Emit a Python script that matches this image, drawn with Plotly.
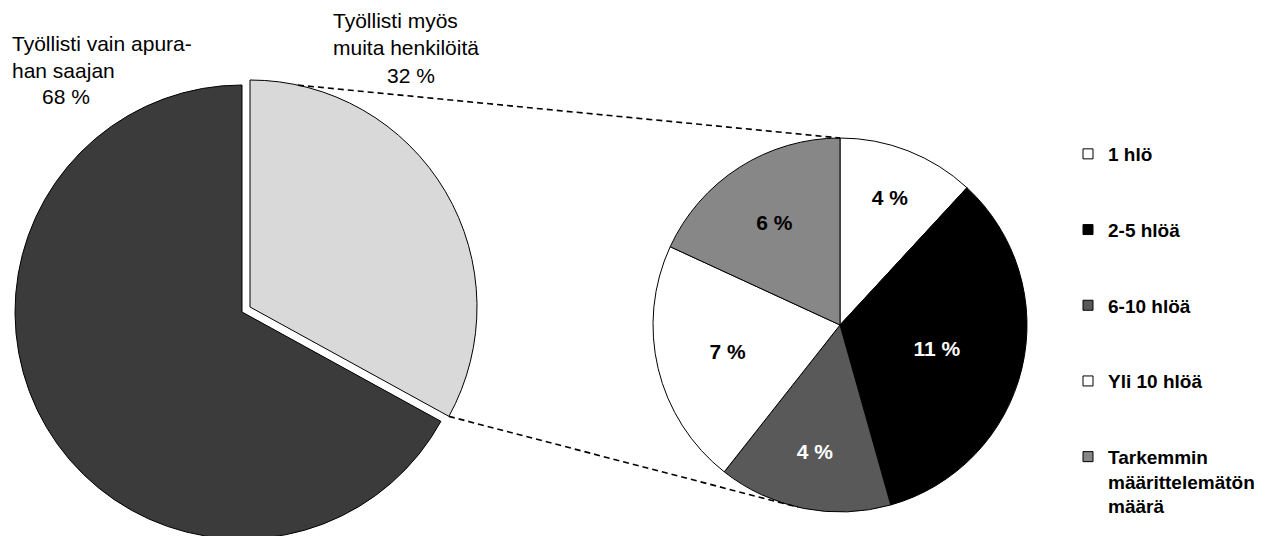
import math
import plotly.graph_objects as go

W, H = 1280, 536
OFF = 8   # page offset of the figure (default body margin)

# ---------------- data ----------------
big_labels = ["Työllisti myös muita henkilöitä", "Työllisti vain apurahan saajan"]
big_values = [33, 67]
big_text = ["32 %", "68 %"]
big_colors = ["#d9d9d9", "#3b3b3b"]

small_labels = ["1 hlö", "2-5 hlöä", "6-10 hlöä", "Yli 10 hlöä", "Tarkemmin<br>määrittelemätön<br>määrä"]
small_values = [3.8, 10.8, 4.8, 6.8, 5.8]
small_text = ["4 %", "11 %", "4 %", "7 %", "6 %"]
small_colors = ["#ffffff", "#000000", "#595959", "#ffffff", "#878787"]
small_text_colors = ["#000000", "#ffffff", "#ffffff", "#000000", "#000000"]

# ---------------- geometry (page pixels) ----------------
BIG_C = (242, 312)
BIG_R = 227
PULL = (8, -5)             # offset of the exploded slice
LIGHT_C = (BIG_C[0] + PULL[0], BIG_C[1] + PULL[1])
SMALL_C = (840, 325)
SMALL_R = 187

FONT = "Liberation Sans, Arial, sans-serif"


def px(x):
    return (x - OFF) / W


def py(y):
    return 1 - (y - OFF) / H


def dom(c, r):
    cx, cy = c
    return dict(
        x=[max(0, px(cx - r)), min(1, px(cx + r))],
        y=[max(0, py(cy + r)), min(1, py(cy - r))],
    )


def arc_pt(c, r, ang):
    a = math.radians(ang)
    return px(c[0] + r * math.sin(a)), py(c[1] - r * math.cos(a))


fig = go.Figure()

# dark slice (stays in place)
fig.add_trace(go.Pie(
    labels=big_labels, values=big_values, sort=False, direction="clockwise",
    rotation=0, domain=dom(BIG_C, BIG_R),
    marker=dict(colors=["rgba(0,0,0,0)", big_colors[1]],
                line=dict(color="#000000", width=[0, 1])),
    textinfo="none", showlegend=False, hoverinfo="skip",
))
# light slice (exploded)
fig.add_trace(go.Pie(
    labels=big_labels, values=big_values, sort=False, direction="clockwise",
    rotation=0, domain=dom(LIGHT_C, BIG_R),
    marker=dict(colors=[big_colors[0], "rgba(0,0,0,0)"],
                line=dict(color="#000000", width=[1, 0])),
    textinfo="none", showlegend=False, hoverinfo="skip",
))
# secondary pie
fig.add_trace(go.Pie(
    labels=small_labels, values=small_values, sort=False, direction="clockwise",
    rotation=0, domain=dom(SMALL_C, SMALL_R),
    marker=dict(colors=small_colors, line=dict(color="#000000", width=1)),
    text=small_text, textinfo="text", textposition="inside",
    insidetextorientation="horizontal",
    textfont=dict(family=FONT, size=21, color=small_text_colors, weight="bold"),
    showlegend=False, hoverinfo="skip",
))

# legend entries
for i, (lab, col) in enumerate(zip(small_labels, small_colors)):
    fig.add_trace(go.Scatter(
        x=[None], y=[None], mode="markers", name=lab, legendgroup=f"g{i}",
        marker=dict(symbol="square", size=10, color=col,
                    line=dict(color="#000000", width=1)),
    ))

# connector lines
light_end = 360 * big_values[0] / sum(big_values)
x0, y0 = arc_pt(LIGHT_C, BIG_R, 12.2)
x1, y1 = arc_pt(SMALL_C, SMALL_R, 0)
x2, y2 = arc_pt(LIGHT_C, BIG_R, light_end)
x3, y3 = arc_pt(SMALL_C, SMALL_R, 193)
line_style = dict(color="#000000", width=1.6, dash="6px,4px")
shapes = [
    dict(type="line", xref="paper", yref="paper", x0=x0, y0=y0, x1=x1, y1=y1, line=line_style),
    dict(type="line", xref="paper", yref="paper", x0=x2, y0=y2, x1=x3, y1=y3, line=line_style),
]

lab_font = dict(family=FONT, size=21, color="#000000")
annotations = [
    dict(text="Työllisti vain apura-<br>han saajan", x=px(10), y=py(57),
         xref="paper", yref="paper", xanchor="left", yanchor="middle",
         align="left", showarrow=False, font=lab_font),
    dict(text=big_text[1], x=px(66), y=py(96), xref="paper", yref="paper",
         xanchor="center", yanchor="middle", showarrow=False, font=lab_font),
    dict(text="Työllisti myös<br>muita henkilöitä", x=px(331), y=py(34),
         xref="paper", yref="paper", xanchor="left", yanchor="middle",
         align="left", showarrow=False, font=lab_font),
    dict(text=big_text[0], x=px(411), y=py(75), xref="paper", yref="paper",
         xanchor="center", yanchor="middle", showarrow=False, font=lab_font),
]

fig.update_layout(
    width=W, height=H, autosize=False,
    margin=dict(l=0, r=0, t=0, b=0),
    paper_bgcolor="#ffffff", plot_bgcolor="#ffffff",
    xaxis=dict(visible=False), yaxis=dict(visible=False),
    showlegend=True,
    legend=dict(x=px(1068), y=py(135), xanchor="left", yanchor="top",
                traceorder="grouped", tracegroupgap=48, valign="top",
                font=dict(family=FONT, size=19, color="#000000", weight="bold"),
                bgcolor="rgba(0,0,0,0)"),
    shapes=shapes, annotations=annotations,
)

fig.write_html("out.html")
